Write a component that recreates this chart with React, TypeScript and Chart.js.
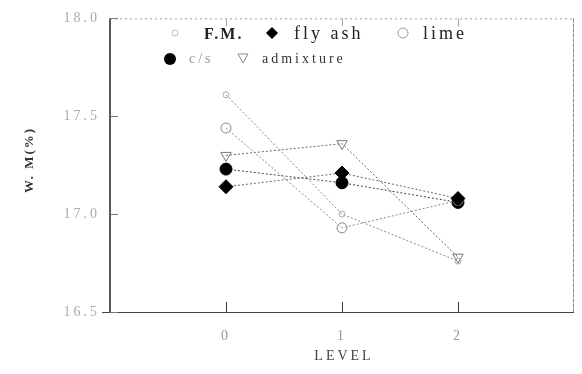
import React, { useEffect, useRef } from "react";
import { Chart, registerables } from "chart.js";

Chart.register(...registerables);

const levels = [0, 1, 2];
const fmValues = [17.61, 17.0, 16.76];
const flyAshValues = [17.14, 17.21, 17.08];
const limeValues = [17.44, 16.93, 17.07];
const csValues = [17.23, 17.16, 17.06];
const admixtureValues = [17.3, 17.36, 16.78];
const yTicks = [16.5, 17.0, 17.5, 18.0];
const xTicks = [0, 1, 2];

const FONT = "'Liberation Serif', 'DejaVu Serif', serif";

function toPoints(vals: number[]) {
  return levels.map((x, i) => ({ x, y: vals[i] }));
}

function drawMarker(ctx: CanvasRenderingContext2D, kind: string, x: number, y: number) {
  ctx.save();
  ctx.lineWidth = 1;
  if (kind === "fm") {
    ctx.strokeStyle = "#bbb";
    ctx.beginPath();
    ctx.arc(x, y, 3, 0, Math.PI * 2);
    ctx.stroke();
  } else if (kind === "fly") {
    ctx.fillStyle = "#000";
    ctx.beginPath();
    ctx.moveTo(x, y - 6);
    ctx.lineTo(x + 6, y);
    ctx.lineTo(x, y + 6);
    ctx.lineTo(x - 6, y);
    ctx.closePath();
    ctx.fill();
  } else if (kind === "lime") {
    ctx.strokeStyle = "#999";
    ctx.beginPath();
    ctx.arc(x, y, 5, 0, Math.PI * 2);
    ctx.stroke();
  } else if (kind === "cs") {
    ctx.fillStyle = "#000";
    ctx.beginPath();
    ctx.arc(x, y, 6, 0, Math.PI * 2);
    ctx.fill();
  } else if (kind === "adm") {
    ctx.strokeStyle = "#888";
    ctx.beginPath();
    ctx.moveTo(x - 5, y - 4);
    ctx.lineTo(x + 5, y - 4);
    ctx.lineTo(x, y + 5);
    ctx.closePath();
    ctx.stroke();
  }
  ctx.restore();
}

const framePlugin = {
  id: "framePlugin",
  beforeDraw(chart: any) {
    (chart.ctx as any).letterSpacing = "3px";
  },
  afterDraw(chart: any) {
    const ctx = chart.ctx as any;
    const { left, right, top, bottom } = chart.chartArea;
    const xs = chart.scales.x;
    const ys = chart.scales.y;
    ctx.save();
    ctx.letterSpacing = "0px";
    // top dotted border
    ctx.strokeStyle = "#999";
    ctx.lineWidth = 1;
    ctx.setLineDash([2, 3]);
    ctx.beginPath();
    ctx.moveTo(left, top + 0.5);
    ctx.lineTo(right, top + 0.5);
    ctx.stroke();
    // right border
    ctx.setLineDash([4, 1]);
    ctx.strokeStyle = "#888";
    ctx.beginPath();
    ctx.moveTo(right - 0.5, top);
    ctx.lineTo(right - 0.5, bottom);
    ctx.stroke();
    ctx.setLineDash([]);
    // bottom axis line
    ctx.strokeStyle = "#444";
    ctx.beginPath();
    ctx.moveTo(left - 8, bottom + 0.5);
    ctx.lineTo(right, bottom + 0.5);
    ctx.stroke();
    // left axis line
    ctx.strokeStyle = "#222";
    ctx.lineWidth = 1.5;
    ctx.beginPath();
    ctx.moveTo(left, top);
    ctx.lineTo(left, bottom);
    ctx.stroke();
    ctx.lineWidth = 1;
    // inward ticks
    for (const v of xTicks) {
      const px = Math.round(xs.getPixelForValue(v)) + 0.5;
      ctx.strokeStyle = "#333";
      ctx.beginPath();
      ctx.moveTo(px, bottom);
      ctx.lineTo(px, bottom - 10);
      ctx.stroke();
      ctx.strokeStyle = "#aaa";
      ctx.beginPath();
      ctx.moveTo(px, top);
      ctx.lineTo(px, top + 8);
      ctx.stroke();
    }
    for (const v of yTicks) {
      const py = Math.round(ys.getPixelForValue(v)) + 0.5;
      ctx.strokeStyle = "#777";
      ctx.beginPath();
      ctx.moveTo(left, py);
      ctx.lineTo(left + 8, py);
      ctx.stroke();
    }
    // axis titles
    ctx.textBaseline = "middle";
    ctx.textAlign = "center";
    ctx.fillStyle = "#444";
    ctx.letterSpacing = "3px";
    ctx.font = `14px ${FONT}`;
    ctx.fillText("LEVEL", (left + right) / 2 + 2, 356);
    ctx.save();
    ctx.translate(30, 160);
    ctx.rotate(-Math.PI / 2);
    ctx.fillStyle = "#333";
    ctx.font = `bold 13px ${FONT}`;
    ctx.letterSpacing = "2px";
    ctx.fillText("W. M(%)", 0, 0);
    ctx.restore();
    // legend
    ctx.textAlign = "left";
    drawMarker(ctx, "fm", 175, 33);
    ctx.fillStyle = "#222";
    ctx.letterSpacing = "2px";
    ctx.font = `bold 16px ${FONT}`;
    ctx.fillText("F.M.", 204, 35);
    drawMarker(ctx, "fly", 272, 33);
    ctx.font = `18px ${FONT}`;
    ctx.letterSpacing = "3px";
    ctx.fillStyle = "#222";
    ctx.fillText("fly ash", 294, 34);
    drawMarker(ctx, "lime", 403, 33);
    ctx.fillText("lime", 423, 34);
    drawMarker(ctx, "cs", 170, 59);
    ctx.font = `14px ${FONT}`;
    ctx.fillStyle = "#999";
    ctx.fillText("c/s", 189, 59);
    drawMarker(ctx, "adm", 243, 58);
    ctx.fillStyle = "#333";
    ctx.fillText("admixture", 262, 59);
    ctx.restore();
    ctx.letterSpacing = "0px";
  },
};

export default function App() {
  const ref = useRef<HTMLCanvasElement | null>(null);
  useEffect(() => {
    if (!ref.current) return;
    const lineStyle = {
      borderColor: "#666",
      borderWidth: 1,
      borderDash: [2, 2],
      showLine: true,
      tension: 0,
    };
    const chart = new Chart(ref.current, {
      type: "scatter",
      data: {
        datasets: [
          {
            label: "F.M.",
            data: toPoints(fmValues),
            ...lineStyle,
            borderColor: "#888",
            pointStyle: "circle",
            pointRadius: 3,
            pointBorderColor: "#aaa",
            pointBackgroundColor: "rgba(255,255,255,0)",
            pointBorderWidth: 1,
          },
          {
            label: "fly ash",
            data: toPoints(flyAshValues),
            ...lineStyle,
            pointStyle: "rectRot",
            pointRadius: 7,
            pointBorderColor: "#000",
            pointBackgroundColor: "#000",
          },
          {
            label: "lime",
            data: toPoints(limeValues),
            ...lineStyle,
            borderColor: "#888",
            pointStyle: "circle",
            pointRadius: 5,
            pointBorderColor: "#888",
            pointBackgroundColor: "rgba(255,255,255,0)",
            pointBorderWidth: 1,
          },
          {
            label: "c/s",
            data: toPoints(csValues),
            ...lineStyle,
            borderColor: "#444",
            pointStyle: "circle",
            pointRadius: 6,
            pointBorderColor: "#000",
            pointBackgroundColor: "#000",
          },
          {
            label: "admixture",
            data: toPoints(admixtureValues),
            ...lineStyle,
            pointStyle: "triangle",
            rotation: 180,
            pointRadius: 6,
            pointBorderColor: "#777",
            pointBackgroundColor: "rgba(255,255,255,0)",
            pointBorderWidth: 1,
          },
        ],
      },
      options: {
        animation: false,
        responsive: false,
        maintainAspectRatio: false,
        layout: { padding: { top: 6, right: 8, left: 0, bottom: 0 } },
        plugins: {
          legend: { display: false },
          tooltip: { enabled: false },
        },
        scales: {
          x: {
            type: "linear",
            min: -1,
            max: 3,
            afterBuildTicks: (s: any) => {
              s.ticks = xTicks.map((v) => ({ value: v }));
            },
            afterFit: (s: any) => {
              s.height = 62;
            },
            grid: { display: false, drawTicks: false },
            border: { display: false },
            ticks: {
              color: "#999",
              padding: 16,
              font: { family: FONT, size: 14 },
              callback: (v: any) => String(v),
            },
          },
          y: {
            type: "linear",
            min: 16.5,
            max: 18.0,
            afterBuildTicks: (s: any) => {
              s.ticks = yTicks.map((v) => ({ value: v }));
            },
            afterFit: (s: any) => {
              s.width = 110;
            },
            grid: { display: false, drawTicks: false },
            border: { display: false },
            ticks: {
              color: "#aaa",
              padding: 10,
              font: { family: FONT, size: 14 },
              callback: (v: any) => Number(v).toFixed(1),
            },
          },
        },
      },
      plugins: [framePlugin],
    } as any);
    return () => chart.destroy();
  }, []);
  return (
    <div style={{ position: "fixed", left: 0, top: 0, width: 582, height: 374, background: "#fff" }}>
      <canvas ref={ref} width={582} height={374} style={{ width: 582, height: 374 }} />
    </div>
  );
}
